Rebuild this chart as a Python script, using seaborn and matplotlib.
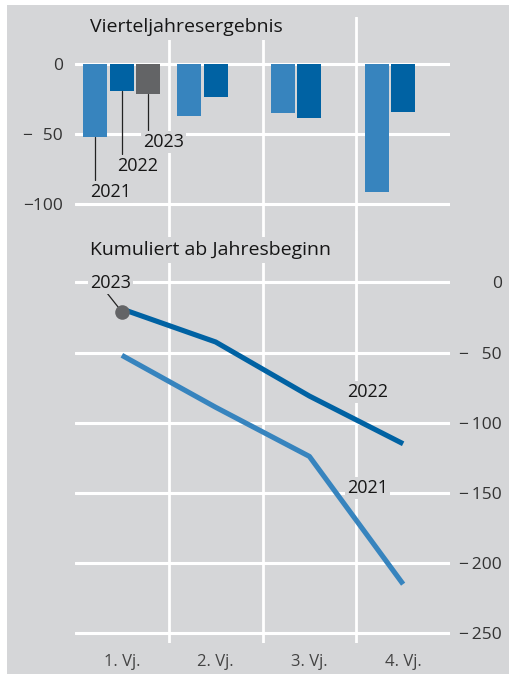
import matplotlib
matplotlib.use("Agg")
import matplotlib.pyplot as plt
from matplotlib.patches import Rectangle
import seaborn as sns
import pandas as pd

# DATA ------------------------------------------------------------------
quarters = ["1. Vj.", "2. Vj.", "3. Vj.", "4. Vj."]
years = ["2021", "2022", "2023"]

# quarterly result
q_2021 = [-52, -37, -35, -91]
q_2022 = [-19, -23.5, -38.5, -34]
q_2023 = [-21]

# cumulative since start of year
cum_2021 = [-52, -89, -124, -215]
cum_2022 = [-19, -42.5, -81, -115]
cum_2023 = [-21]

top_ticks = [0, -50, -100]
top_ticklabels = ["0", "\u2212\u200750", "\u2212100"]
bot_ticks = [0, -50, -100, -150, -200, -250]
bot_ticklabels = ["0", "\u2212\u2009\u200750", "\u2212\u2009100", "\u2212\u2009150",
                  "\u2212\u2009200", "\u2212\u2009250"]

# STYLE -----------------------------------------------------------------
BG = "#d5d6d8"
colors = {"2021": "#3784be", "2022": "#0062a3", "2023": "#636466"}
TXT = "#161616"
TICK = "#333333"

sns.set_style("white")
plt.rcParams["font.family"] = ["Open Sans", "DejaVu Sans"]

W, H = 510, 676
fig = plt.figure(figsize=(W / 100, H / 100), dpi=100, facecolor="white")
fig.add_artist(Rectangle((7 / W, 0.003), 1, 1 - 5 / H - 0.003, transform=fig.transFigure,
                         facecolor=BG, edgecolor="none", zorder=-5))


def px_axes(x0, y0, x1, y1):
    return fig.add_axes([x0 / W, 1 - y1 / H, (x1 - x0) / W, (y1 - y0) / H])


ax1 = px_axes(75, 17, 450, 230)
ax2 = px_axes(75, 230, 450, 643)

# top: quarterly bars
bars = pd.DataFrame({
    "Quartal": quarters + quarters + quarters[:1],
    "Jahr": ["2021"] * 4 + ["2022"] * 4 + ["2023"],
    "Wert": q_2021 + q_2022 + q_2023,
})
sns.barplot(data=bars, x="Quartal", y="Wert", hue="Jahr", order=quarters, hue_order=years,
            palette=colors, saturation=1, width=0.85, gap=0.1, linewidth=0, legend=False,
            ax=ax1, zorder=2)

# bottom: cumulative lines
cum = pd.DataFrame({
    "Quartal": quarters + quarters,
    "Jahr": ["2021"] * 4 + ["2022"] * 4,
    "Wert": cum_2021 + cum_2022,
})
sns.lineplot(data=cum, x="Quartal", y="Wert", hue="Jahr", palette=colors, linewidth=3.7,
             legend=False, ax=ax2, zorder=2, solid_capstyle="butt")
sns.scatterplot(x=quarters[:1], y=cum_2023, color=colors["2023"], s=110, linewidth=0,
                ax=ax2, zorder=4)

for ax in (ax1, ax2):
    ax.set_facecolor("none")
    ax.set_xlim(-0.5, 3.5)
    sns.despine(ax=ax, left=True, bottom=True)
    ax.set_axisbelow(True)
    ax.yaxis.grid(True, color="white", linewidth=2.2)
    for b in (0.5, 1.5, 2.5):
        ax.axvline(b, color="white", linewidth=2, zorder=0.6)
    ax.set_xlabel("")
    ax.set_ylabel("")

ax1.set_ylim(-(230 - 64.3) / 1.4, (64.3 - 17) / 1.4)
ax2.set_ylim(-(643 - 282.3) / 1.404, (282.3 - 230) / 1.404)

ax1.set_xticks([])
ax1.set_yticks(top_ticks, labels=top_ticklabels)
ax1.tick_params(axis="y", length=0, pad=8.6, labelsize=12.5, labelcolor=TICK)

ax2.yaxis.tick_right()
ax2.set_yticks(bot_ticks, labels=bot_ticklabels)
ax2.tick_params(axis="y", length=0, pad=37.5, labelsize=12.5, labelcolor=TICK)
for lab in ax2.get_yticklabels():
    lab.set_horizontalalignment("right")

ax2.set_xticks([-0.5, 0.5, 1.5, 2.5, 3.5], labels=[])
ax2.tick_params(axis="x", which="major", direction="out", length=19.5, width=2, color="white")
ax2.set_xticks([0, 1, 2, 3], labels=quarters, minor=True)
ax2.tick_params(axis="x", which="minor", length=0, pad=8, labelsize=12, labelcolor="#444444")

# titles
tbox = dict(boxstyle="square,pad=0.2", fc=BG, ec="none")
fig.text(90 / W, 1 - 27 / H, "Vierteljahresergebnis", fontsize=14, color=TXT,
         va="center", ha="left", bbox=tbox)
fig.text(90 / W, 1 - 250 / H, "Kumuliert ab Jahresbeginn", fontsize=14, color=TXT,
         va="center", ha="left", bbox=tbox)

# year labels, top panel
box = dict(boxstyle="square,pad=0.1", fc=BG, ec="none")
slot = 0.85 / 3
for i, (yr, ty) in enumerate(zip(years, [-91, -72.4, -55.3])):
    xc = (i - 1) * slot
    ax1.plot([xc, xc], [bars["Wert"][bars["Jahr"] == yr].iloc[0], ty + 8.3],
             color="#222222", linewidth=0.9, zorder=3)
    ax1.text(xc - 0.055, ty, yr, fontsize=13, color=TXT, ha="left", va="center",
             bbox=box, zorder=5)

# year labels, bottom panel
ax2.plot([-0.159, 0], [-7.6, cum_2023[0]], color="#222222", linewidth=0.9, zorder=3)
ax2.text(-0.34, -0.7, "2023", fontsize=13, color=TXT, ha="left", va="center", bbox=box, zorder=5)
ax2.text(2.62, -78, "2022", fontsize=13, color=TXT, ha="center", va="center", bbox=box, zorder=5)
ax2.text(2.62, -146.5, "2021", fontsize=13, color=TXT, ha="center", va="center", bbox=box, zorder=5)

fig.savefig("out.png", dpi=100, facecolor="white")
